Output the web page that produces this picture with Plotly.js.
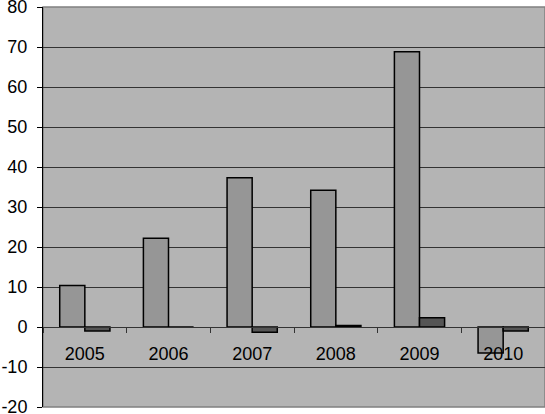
<!DOCTYPE html>
<html>
<head>
<meta charset="utf-8">
<script src="https://cdn.plot.ly/plotly-3.0.1.min.js"></script>
<style>html,body{margin:0;padding:0;background:#fff;}#chart{width:545px;height:414px;}</style>
</head>
<body>
<div id="chart"></div>
<script>
var years = ['2005', '2006', '2007', '2008', '2009', '2010'];
var series1 = [10.4, 22.2, 37.3, 34.2, 68.8, -6.5];
var series2 = [-1.0, 0, -1.3, 0.4, 2.3, -1.0];
var yTicks = [-20, -10, 0, 10, 20, 30, 40, 50, 60, 70, 80];
var yTickLabels = ['-20', '-10', '0', '10', '20', '30', '40', '50', '60', '70', '80'];

var traces = [
  {type: 'bar', x: years, y: series1, name: 'Series 1',
   marker: {color: '#969696', line: {color: '#000000', width: 1.5}}},
  {type: 'bar', x: years, y: series2, name: 'Series 2',
   marker: {color: '#555555', line: {color: '#000000', width: 1.5}}}
];

var layout = {
  width: 545, height: 414,
  margin: {l: 43, r: 0, t: 7, b: 7},
  paper_bgcolor: '#ffffff',
  plot_bgcolor: '#b4b4b4',
  showlegend: false,
  barmode: 'group',
  bargap: 0.4,
  bargroupgap: 0,
  font: {family: 'Liberation Sans, Arial, sans-serif', size: 18, color: '#000000'},
  xaxis: {
    type: 'category',
    anchor: 'free', position: 0.2,
    showgrid: false, zeroline: false,
    showline: true, linecolor: '#333333', linewidth: 1,
    ticks: 'outside', ticklen: 5, tickcolor: '#333333', tickson: 'boundaries',
    ticklabelstandoff: 10,
    tickfont: {size: 18, color: '#000000'}
  },
  yaxis: {
    range: [-20, 80],
    tickvals: yTicks,
    ticktext: yTickLabels,
    showgrid: true, gridcolor: '#333333', gridwidth: 1,
    zeroline: false,
    showline: true, linecolor: '#000000', linewidth: 1,
    ticks: 'outside', ticklen: 5, tickcolor: '#000000',
    ticklabelstandoff: 6,
    ticklabeloverflow: 'allow',
    tickfont: {size: 18, color: '#000000'}
  },
  shapes: [
    {type: 'rect', xref: 'paper', yref: 'paper', x0: 0, x1: 1, y0: 0, y1: 1,
     line: {color: '#808080', width: 1.5}, fillcolor: 'rgba(0,0,0,0)', layer: 'below'}
  ]
};

Plotly.newPlot('chart', traces, layout, {displayModeBar: false, staticPlot: true});
</script>
</body>
</html>
